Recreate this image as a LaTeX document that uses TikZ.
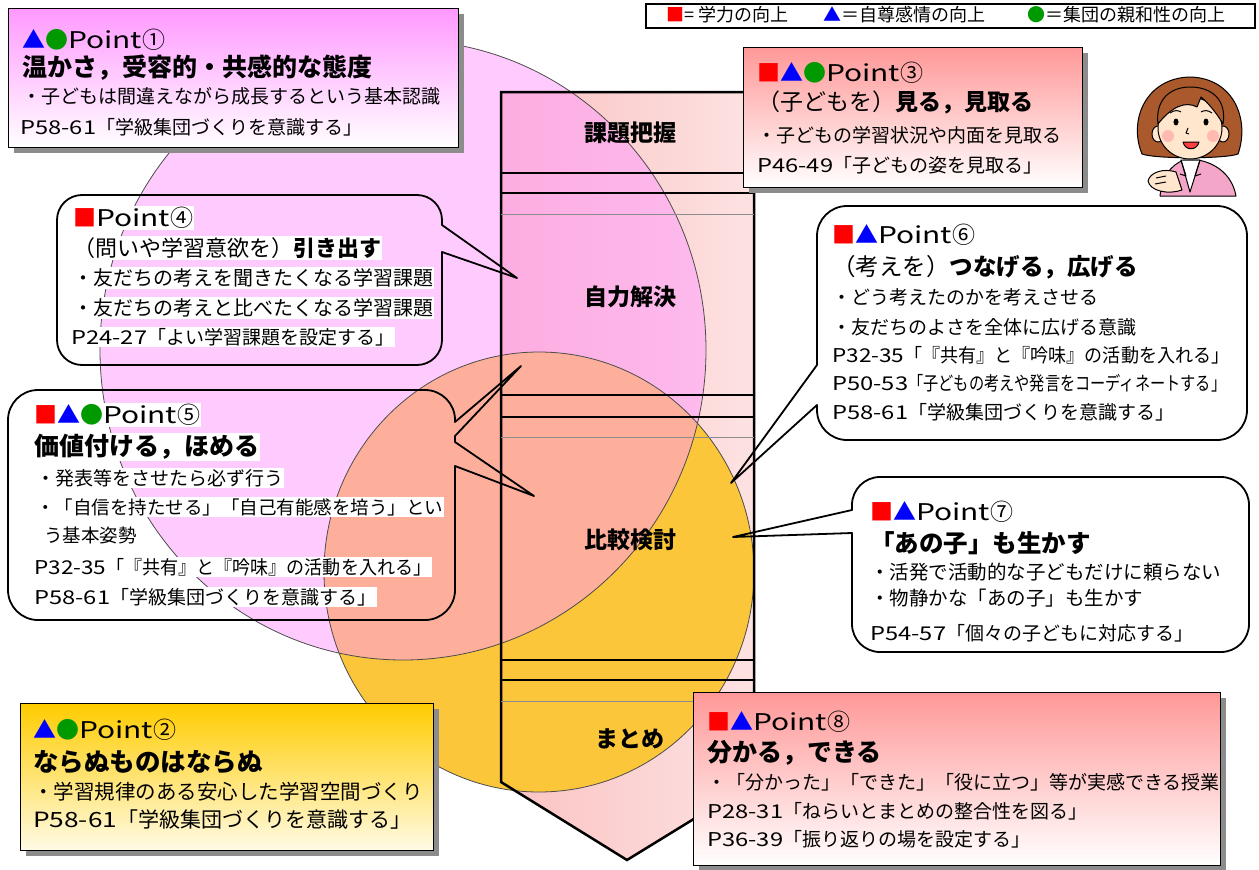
\documentclass[tikz,border=0pt]{standalone}
\usepackage{fontspec}
\setmainfont{Noto Sans CJK JP}
\usetikzlibrary{shadows}

\definecolor{mred}{HTML}{FF0000}
\definecolor{mblue}{HTML}{0000FF}
\definecolor{mgreen}{HTML}{009A00}
\definecolor{pinkring}{HTML}{FF99FF}
\definecolor{yellowring}{HTML}{FCC63A}
\definecolor{colA}{HTML}{FBC2C2}
\definecolor{colB}{HTML}{FDE2E2}
\definecolor{magtop}{HTML}{FF99FF}
\definecolor{redtop}{HTML}{FF9898}
\definecolor{goldtop}{HTML}{FFCC00}
\definecolor{goldbot}{HTML}{FFFBE6}
\definecolor{hairc}{HTML}{A9592B}
\definecolor{skin}{HTML}{FFE6CC}
\definecolor{blush}{HTML}{FFA8A8}
\definecolor{jacket}{HTML}{F4A6C8}

% rounded speech bubble: L T R B radius, tail on right edge, tail on left edge
\newcommand\bubblepath[7]{%
  \draw[bubble] ({#1+#5},#2) -- ({#3-#5},#2)
    .. controls ({#3-0.4477*#5},#2) and (#3,{#2+0.4477*#5}) .. (#3,{#2+#5})
    #6 -- (#3,{#4-#5})
    .. controls (#3,{#4-0.4477*#5}) and ({#3-0.4477*#5},#4) .. ({#3-#5},#4)
    -- ({#1+#5},#4)
    .. controls ({#1+0.4477*#5},#4) and (#1,{#4-0.4477*#5}) .. (#1,{#4-#5})
    #7 -- (#1,{#2+#5})
    .. controls (#1,{#2+0.4477*#5}) and ({#1+0.4477*#5},#2) .. ({#1+#5},#2) -- cycle;}

\newcommand\mkR{\textcolor{mred}{■}}
\newcommand\mkB{\textcolor{mblue}{▲}}
\newcommand\mkG{\textcolor{mgreen}{●}}
% wide Latin lettering for headings and page numbers
\newcommand\pw{\scalebox{1.3}[1]{Point}}
\newcommand\pn[1]{\scalebox{1.25}[1]{#1}}

\begin{document}
\begin{tikzpicture}[x=1pt,y=-1pt,
  pbox/.style={draw=black, line width=1.3pt, anchor=north west, inner sep=0pt,
    drop shadow={shadow xshift=5pt, shadow yshift=-5pt, fill=black!45, opacity=1}},
  txt/.style={anchor=west, inner sep=0pt, text=black},
  ptl/.style={txt, font=\fontsize{23}{27}\selectfont},
  ttl/.style={txt, font=\fontsize{25}{29}\selectfont\bfseries},
  mixt/.style={txt, font=\fontsize{23}{27}\selectfont},
  bul/.style={txt, font=\fontsize{19}{22}\selectfont},
  pref/.style={txt, font=\fontsize{19}{22}\selectfont},
  hl/.style={fill=white, inner xsep=1pt, inner ysep=1.5pt},
  bubble/.style={draw=black, line width=1.8pt, line join=round},
  stage/.style={font=\fontsize{23}{26}\selectfont\bfseries, inner sep=0pt},
  ring/.style={draw=black!70, line width=0.8pt},
  legtxt/.style={txt, font=\fontsize{18}{20}\selectfont}
]
\useasboundingbox (0,0) rectangle (1259,870);
\fill[white] (0,0) rectangle (1259,870);

% ---------- lesson flow column ----------
\shade[left color=colA, right color=colB]
  (501,92) -- (754,92) -- (754,782) -- (627,860) -- (501,782) -- cycle;

% ---------- overlapping circles ----------
\fill[yellowring] (539,572) ellipse [x radius=215, y radius=220];
\fill[pinkring, opacity=0.5] (403,350) ellipse [x radius=303, y radius=310];
\draw[ring] (539,572) ellipse [x radius=215, y radius=220];
\draw[ring] (403,350) ellipse [x radius=303, y radius=310];

% column outline and stage dividers
\draw[line width=2.5pt, line join=miter]
  (501,92) -- (754,92) -- (754,782) -- (627,860) -- (501,782) -- cycle;
\foreach \yy in {173,395,660} \draw[line width=2.2pt] (501,\yy) -- (754,\yy);
\foreach \yy in {193,417,680} \draw[line width=1.2pt] (501,\yy) -- (754,\yy);
\foreach \yy in {214,437,701} \draw[line width=0.8pt, black!45] (501,\yy) -- (754,\yy);

\node[stage] (s1) at (630,133) {課題把握};
\node[stage] (s2) at (630,297) {自力解決};
\node[stage] (s3) at (630,540) {比較検討};
\node[stage] (s4) at (630,739) {まとめ};

% ---------- legend ----------
\node[draw=black, line width=1.6pt, minimum width=609pt, minimum height=24pt,
      anchor=north west, inner sep=0pt] (legend) at (645,3) {};
\node[legtxt] (lg1) at (666,15) {\mkR= 学力の向上};
\node[legtxt] (lg2) at (823,15) {\mkB＝自尊感情の向上};
\node[legtxt] (lg3) at (1027,15) {\mkG＝集団の親和性の向上};

% ---------- Point 1 ----------
\node[pbox, top color=magtop, bottom color=white,
      minimum width=450pt, minimum height=139pt] (box1) at (8,8) {};
\node[ptl] (p1a) at (22,40) {\mkB\mkG\pw①};
\node[ttl] (p1b) at (22,68) {温かさ，受容的・共感的な態度};
\node[bul] (p1c) at (22,96) {・子どもは間違えながら成長するという基本認識};
\node[pref] (p1d) at (20,127) {\pn{P58-61}「学級集団づくりを意識する」};

% ---------- Point 3 ----------
\node[pbox, top color=redtop, bottom color=white,
      minimum width=339pt, minimum height=140pt] (box3) at (743,47) {};
\node[ptl] (p3a) at (757,73) {\mkR\mkB\mkG\pw③};
\node[mixt] (p3b) at (757,102) {（子どもを）\textbf{見る，見取る}};
\node[bul] (p3c) at (757,135) {・子どもの学習状況や内面を見取る};
\node[pref] (p3d) at (757,165) {\pn{P46-49}「子どもの姿を見取る」};

% ---------- Point 4 ----------
\coordinate (tip4) at (517,278);
\bubblepath{57}{195}{442}{365}{25}{-- (442,225) -- (tip4) -- (442,252)}{}
\node[ptl, hl] (p4a) at (72,218) {\mkR\pw④};
\node[mixt, hl, font=\fontsize{22}{26}\selectfont] (p4b) at (72,248) {（問いや学習意欲を）\textbf{引き出す}};
\node[bul, hl, font=\fontsize{20}{23}\selectfont] (p4c) at (72,278) {・友だちの考えを聞きたくなる学習課題};
\node[bul, hl, font=\fontsize{20}{23}\selectfont] (p4d) at (72,308) {・友だちの考えと比べたくなる学習課題};
\node[pref, hl] (p4e) at (70,337) {\pn{P24-27}「よい学習課題を設定する」};

% ---------- Point 5 ----------
\coordinate (tip5a) at (521,366);
\coordinate (tip5b) at (534,496);
\bubblepath{8}{390}{455}{620}{30}
  {-- (455,422) -- (tip5a) -- (455,436) -- (455,442) -- (tip5b) -- (455,466)}{}
\node[ptl, hl] (p5a) at (33,415) {\mkR\mkB\mkG\pw⑤};
\node[ttl, hl] (p5b) at (33,447) {価値付ける，ほめる};
\node[bul, hl] (p5c) at (35,478) {・発表等をさせたら必ず行う};
\node[bul, hl, font=\fontsize{18.5}{22}\selectfont] (p5d) at (35,507) {・「自信を持たせる」「自己有能感を培う」とい};
\node[bul, hl, font=\fontsize{18.5}{22}\selectfont] (p5e) at (43,535) {う基本姿勢};
\node[pref, hl] (p5f) at (33,567) {\scalebox{0.95}[1]{\pn{P32-35}「『共有』と『吟味』の活動を入れる」}};
\node[pref, hl] (p5g) at (33,597) {\pn{P58-61}「学級集団づくりを意識する」};

% ---------- Point 6 ----------
\coordinate (tip6) at (731,483);
\bubblepath{817}{206}{1247}{440}{30}{}{-- (817,405) -- (tip6) -- (817,365)}
\node[ptl] (p6a) at (832,235) {\mkR\mkB\pw⑥};
\node[mixt, font=\fontsize{23.5}{27}\selectfont] (p6b) at (832,267) {（考えを）\textbf{つなげる，広げる}};
\node[bul] (p6c) at (832,297) {・どう考えたのかを考えさせる};
\node[bul] (p6d) at (832,327) {・友だちのよさを全体に広げる意識};
\node[pref] (p6e) at (832,355) {\scalebox{0.95}[1]{\pn{P32-35}「『共有』と『吟味』の活動を入れる」}};
\node[pref] (p6f) at (832,383) {\pn{P50-53}\scalebox{0.8}[1]{「子どもの考えや発言をコーディネートする」}};
\node[pref] (p6g) at (832,412) {\pn{P58-61}「学級集団づくりを意識する」};

% ---------- Point 7 ----------
\coordinate (tip7) at (733,537);
\bubblepath{852}{477}{1249}{652}{28}{}{-- (852,533) -- (tip7) -- (852,510)}
\node[ptl] (p7a) at (870,512) {\mkR\mkB\pw⑦};
\node[ttl, font=\fontsize{24.5}{29}\selectfont\bfseries] (p7b) at (870,543) {「あの子」も生かす};
\node[bul, font=\fontsize{19.5}{22}\selectfont] (p7c) at (870,572) {・活発で活動的な子どもだけに頼らない};
\node[bul, font=\fontsize{19.5}{22}\selectfont] (p7d) at (870,598) {・物静かな「あの子」も生かす};
\node[pref] (p7e) at (870,633) {\pn{P54-57}「個々の子どもに対応する」};

% ---------- Point 2 ----------
\node[pbox, top color=goldtop, bottom color=goldbot,
      minimum width=413pt, minimum height=147pt] (box2) at (20,703) {};
\node[ptl] (p2a) at (33,730) {\mkB\mkG\pw②};
\node[ttl, font=\fontsize{25.5}{29}\selectfont\bfseries] (p2b) at (33,762) {ならぬものはならぬ};
\node[bul, font=\fontsize{20.5}{23}\selectfont] (p2c) at (33,792) {・学習規律のある安心した学習空間づくり};
\node[pref, font=\fontsize{21}{24}\selectfont] (p2d) at (33,820) {\pn{P58-61}「学級集団づくりを意識する」};

% ---------- Point 8 ----------
\node[pbox, top color=redtop, bottom color=white,
      minimum width=527pt, minimum height=173pt] (box8) at (693,692) {};
\node[ptl] (p8a) at (707,722) {\mkR\mkB\pw⑧};
\node[ttl] (p8b) at (707,753) {分かる，できる};
\node[bul] (p8c) at (707,782) {・「分かった」「できた」「役に立つ」等が実感できる授業};
\node[pref] (p8d) at (707,811) {\pn{P28-31}「ねらいとまとめの整合性を図る」};
\node[pref] (p8e) at (707,839) {\pn{P36-39}「振り返りの場を設定する」};

% ---------- teacher figure ----------
\begin{scope}[line width=1pt, line join=round]
  % hair behind the face
  \filldraw[fill=hairc] (1142,154) .. controls (1128,120) and (1146,78) .. (1190,77)
    .. controls (1234,78) and (1250,120) .. (1238,154)
    .. controls (1225,159) and (1155,159) .. (1142,154) -- cycle;
  % body
  \filldraw[fill=jacket] (1160,196) .. controls (1162,178) and (1170,165) .. (1184,160)
    -- (1198,160) .. controls (1215,163) and (1232,174) .. (1236,196) -- cycle;
  \filldraw[fill=white] (1181,160) -- (1190,192) -- (1200,160) -- cycle;
  \draw (1181,160) -- (1186,176) -- (1180,174);
  \draw (1200,160) -- (1195,176) -- (1201,174);
  % ears and face
  \filldraw[fill=skin] (1158,134) ellipse [x radius=6, y radius=8];
  \filldraw[fill=skin] (1223,134) ellipse [x radius=6, y radius=8];
  \filldraw[fill=skin] (1190,128) ellipse [x radius=32, y radius=31];
  % fringe
  \filldraw[fill=hairc] (1158,124) .. controls (1155,100) and (1170,87) .. (1190,87)
    .. controls (1212,87) and (1227,100) .. (1223,124)
    .. controls (1216,112) and (1208,103) .. (1201,97) -- (1197,107)
    .. controls (1186,101) and (1172,106) .. (1158,124) -- cycle;
  % features
  \fill[blush, opacity=0.7] (1168,136) circle [radius=6];
  \fill[blush, opacity=0.7] (1213,136) circle [radius=6];
  \fill (1176,122) ellipse [x radius=2.5, y radius=3.5];
  \fill (1206,122) ellipse [x radius=2.5, y radius=3.5];
  \draw (1170,113) .. controls (1174,110) and (1178,110) .. (1181,112);
  \draw (1201,112) .. controls (1204,110) and (1208,110) .. (1212,113);
  \draw (1188,128) -- (1186,133) -- (1189,134);
  \filldraw[fill=red!75] (1183,142) .. controls (1185,151) and (1197,151) .. (1199,142) -- cycle;
  % hand
  \filldraw[fill=skin] (1148,181) .. controls (1150,172) and (1164,168) .. (1176,172)
    -- (1182,190) .. controls (1168,195) and (1150,191) .. (1148,181) -- cycle;
  \draw (1156,178) -- (1166,176);
  \draw (1155,184) -- (1166,182);
\end{scope}
\end{tikzpicture}
\end{document}
